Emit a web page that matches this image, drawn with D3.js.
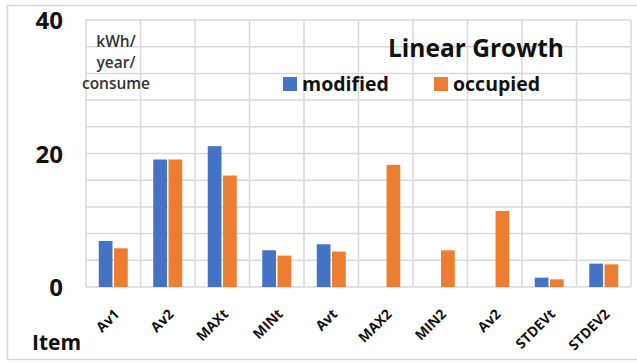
<!DOCTYPE html>
<html>
<head>
<meta charset="utf-8">
<script src="https://cdn.jsdelivr.net/npm/d3@7"></script>
<style>
  html, body { margin: 0; padding: 0; background: #fff; }
  svg { display: block; }
  text { font-family: "Open Sans", Lato, sans-serif; font-weight: 700; }
</style>
</head>
<body>
<svg id="chart" width="637" height="363"></svg>
<script>
// Items along the x axis (label text as shown)
const items = ["Av1", "Av2", "MAXt", "MINt", "Avt", "MAX2", "MIN2", "Av2", "STDEVt", "STDEV2"];
// kWh/year/consume per item; null = no bar
const modified = [6.9, 19.1, 21.1, 5.5, 6.4, null, null, null, 1.4, 3.5];
const occupied = [5.8, 19.1, 16.7, 4.7, 5.3, 18.3, 5.5, 11.4, 1.15, 3.4];
const seriesNames = ["modified", "occupied"];
const yTickLabels = [0, 20, 40];
const yGridValues = d3.range(0, 41, 4);

const colors = { modified: "#4472C4", occupied: "#ED7D31" };
const FONT = "'Open Sans', Lato, sans-serif";

const svg = d3.select("#chart");
const W = 637, H = 363;
const plot = { left: 86, right: 631, top: 20, bottom: 287 };

// outer frame
svg.append("rect")
  .attr("x", 7.5).attr("y", 5.5)
  .attr("width", W - 6).attr("height", 354)
  .attr("fill", "#fff").attr("stroke", "#d6d6d6").attr("stroke-width", 1.5);

const x = d3.scaleBand().domain(d3.range(items.length))
  .range([plot.left, plot.right]).paddingInner(0).paddingOuter(0);
const y = d3.scaleLinear().domain([0, 40]).range([plot.bottom, plot.top]);

const grid = svg.append("g").attr("stroke", "#d9d9d9").attr("stroke-width", 1.5);
// horizontal grid
grid.selectAll("line.h").data(yGridValues).join("line")
  .attr("class", "h")
  .attr("x1", plot.left).attr("x2", plot.right)
  .attr("y1", d => y(d)).attr("y2", d => y(d));
// vertical separators between items
grid.selectAll("line.v").data(d3.range(items.length + 1)).join("line")
  .attr("class", "v")
  .attr("x1", i => i < items.length ? x(i) : plot.right)
  .attr("x2", i => i < items.length ? x(i) : plot.right)
  .attr("y1", plot.top).attr("y2", plot.bottom);

// bars
const barW = 13, gap = 3;
const inner = d3.scaleBand().domain(seriesNames)
  .range([-(barW + gap / 2), barW + gap / 2]).paddingInner(gap / (2 * barW + gap));
const rows = items.map((it, i) => ({ i, modified: modified[i], occupied: occupied[i] }));
const gBars = svg.append("g");
seriesNames.forEach(s => {
  gBars.selectAll("rect." + s)
    .data(rows.filter(r => r[s] != null))
    .join("rect")
    .attr("class", s)
    .attr("x", r => x(r.i) + x.bandwidth() / 2 + inner(s))
    .attr("width", inner.bandwidth())
    .attr("y", r => y(r[s]))
    .attr("height", r => y(0) - y(r[s]))
    .attr("fill", colors[s]);
});

// y axis tick labels
const yAxis = d3.axisLeft(y).tickValues(yTickLabels).tickSize(0).tickPadding(0);
const gy = svg.append("g").attr("transform", "translate(63,0)").call(yAxis);
gy.select(".domain").remove();
gy.selectAll("text")
  .attr("font-size", 24).attr("fill", "#111")
  .style("font-family", FONT).style("font-weight", 700)
  .attr("dy", "0.36em");

// x axis labels (rotated)
const xAxis = d3.axisBottom(x).tickFormat(i => items[i]).tickSize(0).tickPadding(0);
const gx = svg.append("g").attr("transform", `translate(0,${plot.bottom})`).call(xAxis);
gx.select(".domain").remove();
gx.selectAll("text")
  .attr("font-size", 14).attr("fill", "#111")
  .style("font-family", FONT).style("font-weight", 700)
  .attr("text-anchor", "end")
  .attr("dy", 0)
  .attr("transform", "translate(7,28) rotate(-45)");

// unit label
const unit = svg.append("text").attr("x", 116).attr("text-anchor", "middle")
  .attr("font-size", 15.5).attr("fill", "#333").style("font-weight", 600);
["kWh/", "year/", "consume"].forEach((t, k) => {
  unit.append("tspan").attr("x", 116).attr("y", 47 + k * 21).text(t);
});

// axis title
svg.append("text").attr("x", 32).attr("y", 350)
  .attr("font-size", 21).attr("fill", "#111").text("Item");

// chart title
svg.append("text").attr("x", 476).attr("y", 57).attr("text-anchor", "middle")
  .attr("font-size", 24.5).attr("fill", "#111").text("Linear Growth");

// legend
const legendPos = [283, 434];
seriesNames.forEach((s, k) => {
  svg.append("rect").attr("x", legendPos[k]).attr("y", 77)
    .attr("width", 14).attr("height", 14).attr("fill", colors[s]);
  svg.append("text").attr("x", legendPos[k] + 19).attr("y", 91)
    .attr("font-size", 19.5).attr("fill", "#111").text(s);
});
</script>
</body>
</html>
